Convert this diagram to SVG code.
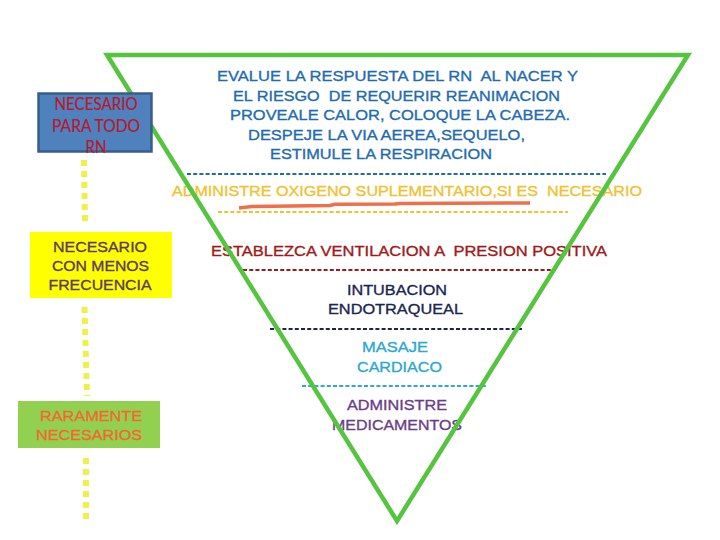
<svg xmlns="http://www.w3.org/2000/svg" width="720" height="540" viewBox="0 0 720 540">
<style>
text{font-family:"Liberation Sans",Arial,sans-serif;font-size:15px;white-space:pre;stroke-width:0.35}
.lbl{font-family:Lato,"Liberation Sans",sans-serif;font-size:16.5px;stroke-width:0.2}
.dot{fill:none;stroke:#F0F04A;stroke-width:6;stroke-dasharray:6 5}
.sep{fill:none;stroke-width:2;stroke-dasharray:4 2.2}
</style>
<rect width="720" height="540" fill="#fff"/>
<g id="pyramid-text">
<g fill="#1F6BB0" stroke="#1F6BB0">
<text x="217" y="81" textLength="361" lengthAdjust="spacingAndGlyphs">EVALUE LA RESPUESTA DEL RN  AL NACER Y</text>
<text x="233" y="100.5" textLength="327" lengthAdjust="spacingAndGlyphs">EL RIESGO  DE REQUERIR REANIMACION</text>
<text x="230" y="120" textLength="340" lengthAdjust="spacingAndGlyphs">PROVEALE CALOR, COLOQUE LA CABEZA.</text>
<text x="248" y="139.5" textLength="277" lengthAdjust="spacingAndGlyphs">DESPEJE LA VIA AEREA,SEQUELO,</text>
<text x="270" y="159" textLength="222" lengthAdjust="spacingAndGlyphs">ESTIMULE LA RESPIRACION</text>
</g>
<line class="sep" x1="187" y1="174" x2="606" y2="174" stroke="#1F6BB0"/>
<text x="172" y="196" fill="#EFC232" stroke="#EFC232" textLength="470" lengthAdjust="spacingAndGlyphs">ADMINISTRE OXIGENO SUPLEMENTARIO,SI ES  NECESARIO</text>
<path d="M239,208 L252,206.5 L330,205.5 L335,204.2 L395,204 L400,203.5 L530,203" fill="none" stroke="#EE6F4A" stroke-width="3.5"/>
<line class="sep" x1="218" y1="212" x2="568" y2="212" stroke="#EFC232"/>
<text x="211" y="256" fill="#A01818" stroke="#A01818" textLength="396" lengthAdjust="spacingAndGlyphs">ESTABLEZCA VENTILACION A  PRESION POSITIVA</text>
<line class="sep" x1="243" y1="270" x2="556" y2="270" stroke="#A01818"/>
<g fill="#1A2550" stroke="#1A2550">
<text x="347" y="295" textLength="100" lengthAdjust="spacingAndGlyphs">INTUBACION</text>
<text x="328" y="314" textLength="135" lengthAdjust="spacingAndGlyphs">ENDOTRAQUEAL</text>
</g>
<line class="sep" x1="270" y1="329" x2="523" y2="329" stroke="#1A2550"/>
<g fill="#2EA8D0" stroke="#2EA8D0">
<text x="362" y="351.5" textLength="66" lengthAdjust="spacingAndGlyphs">MASAJE</text>
<text x="357" y="371.5" textLength="85" lengthAdjust="spacingAndGlyphs">CARDIACO</text>
</g>
<line class="sep" x1="302" y1="386" x2="487" y2="386" stroke="#2EA8D0"/>
<g fill="#6A3D8A" stroke="#6A3D8A">
<text x="347" y="410" textLength="100" lengthAdjust="spacingAndGlyphs">ADMINISTRE</text>
<text x="332" y="430" textLength="130" lengthAdjust="spacingAndGlyphs">MEDICAMENTOS</text>
</g>
</g>
<g id="pyramid">
<polygon points="107,55 688,55 397,521" fill="none" stroke="#55C43F" stroke-width="4.5" stroke-linejoin="miter"/>
</g>
<g id="connectors">
<line class="dot" x1="84" y1="160" x2="85" y2="222"/>
<line class="dot" x1="84.5" y1="307" x2="87" y2="396"/>
<line class="dot" x1="86" y1="458" x2="86" y2="523"/>
</g>
<g id="node-todo">
<rect x="38.5" y="93.5" width="113" height="58" fill="#4F81BD" stroke="#385D8A" stroke-width="2.5"/>
<g fill="#B8182E" stroke="#B8182E" text-anchor="middle">
<text class="lbl" x="96" y="110" textLength="83" lengthAdjust="spacingAndGlyphs">NECESARIO</text>
<text class="lbl" x="96" y="132" textLength="88" lengthAdjust="spacingAndGlyphs">PARA TODO</text>
<text class="lbl" x="96" y="153" textLength="21" lengthAdjust="spacingAndGlyphs">RN</text>
</g>
</g>
<g id="node-menos">
<rect x="30" y="232" width="142" height="66" fill="#FFFF00"/>
<g fill="#5B3B63" stroke="#5B3B63">
<text x="53" y="251.5" textLength="94" lengthAdjust="spacingAndGlyphs">NECESARIO</text>
<text x="52" y="270.5" textLength="97" lengthAdjust="spacingAndGlyphs">CON MENOS</text>
<text x="48.5" y="290" textLength="103" lengthAdjust="spacingAndGlyphs">FRECUENCIA</text>
</g>
</g>
<g id="node-raramente">
<rect x="18" y="401" width="142" height="47" fill="#92D050"/>
<g fill="#F06A30" stroke="#F06A30">
<text x="40" y="420.5" textLength="102" lengthAdjust="spacingAndGlyphs">RARAMENTE</text>
<text x="36" y="440" textLength="106" lengthAdjust="spacingAndGlyphs">NECESARIOS</text>
</g>
</g>
</svg>
